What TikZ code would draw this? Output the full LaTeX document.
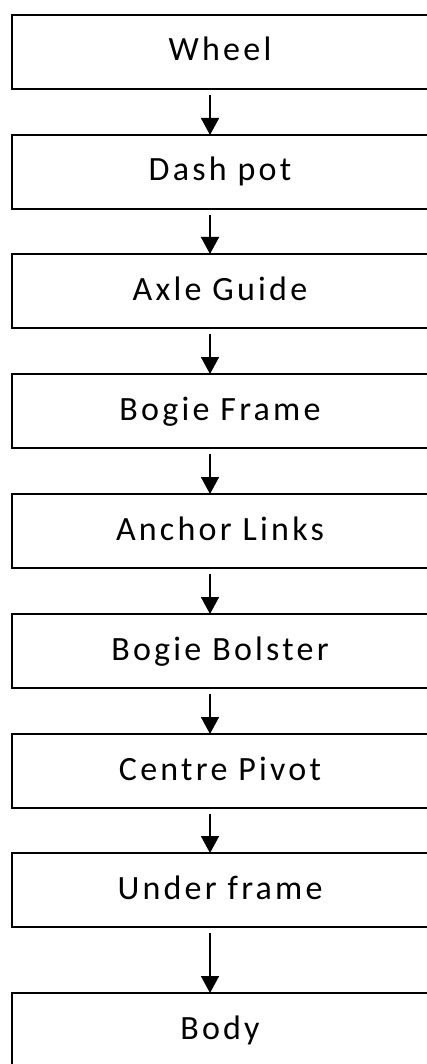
\documentclass[tikz,border=0pt]{standalone}
\usepackage{fontspec}
\setmainfont{Carlito}[LetterSpace=9.5]
\usetikzlibrary{arrows.meta}

\tikzset{
  stagebox/.style={draw=black, line width=1.5pt, rectangle, inner sep=0pt, outer sep=0pt,
    minimum width=416pt, minimum height=74pt, anchor=center,
    font=\fontsize{34pt}{38pt}\selectfont, text height=22pt, text depth=4pt},
  flow/.style={line width=1.6pt, -{Triangle[length=17pt,width=18pt]}, shorten <=6pt}
}

\begin{document}
\begin{tikzpicture}[x=1pt,y=1pt]
  \useasboundingbox (0,0) rectangle (426,-1064);

  % chain of assemblies, one box per stage
  \node[stagebox] (wheel)  at (220,-52)  {Wheel};
  \node[stagebox] (dash)   at (220,-172) {Dash pot};
  \node[stagebox] (axle)   at (220,-291) {Axle Guide};
  \node[stagebox] (bframe) at (220,-411) {Bogie Frame};
  \node[stagebox] (anchor) at (220,-531) {Anchor Links};
  \node[stagebox] (bolst)  at (220,-651) {Bogie Bolster};
  \node[stagebox] (pivot)  at (220,-771) {Centre Pivot};
  \node[stagebox] (under)  at (220,-890) {Under frame};
  \node[stagebox] (body)   at (220,-1030) {Body};

  % downward connectors, slightly left of the box centres
  \foreach \a/\b in {wheel/dash, dash/axle, axle/bframe, bframe/anchor,
                     anchor/bolst, bolst/pivot, pivot/under, under/body}
    \draw[flow] ([xshift=-10pt]\a.south) -- ([xshift=-10pt]\b.north);
\end{tikzpicture}
\end{document}
